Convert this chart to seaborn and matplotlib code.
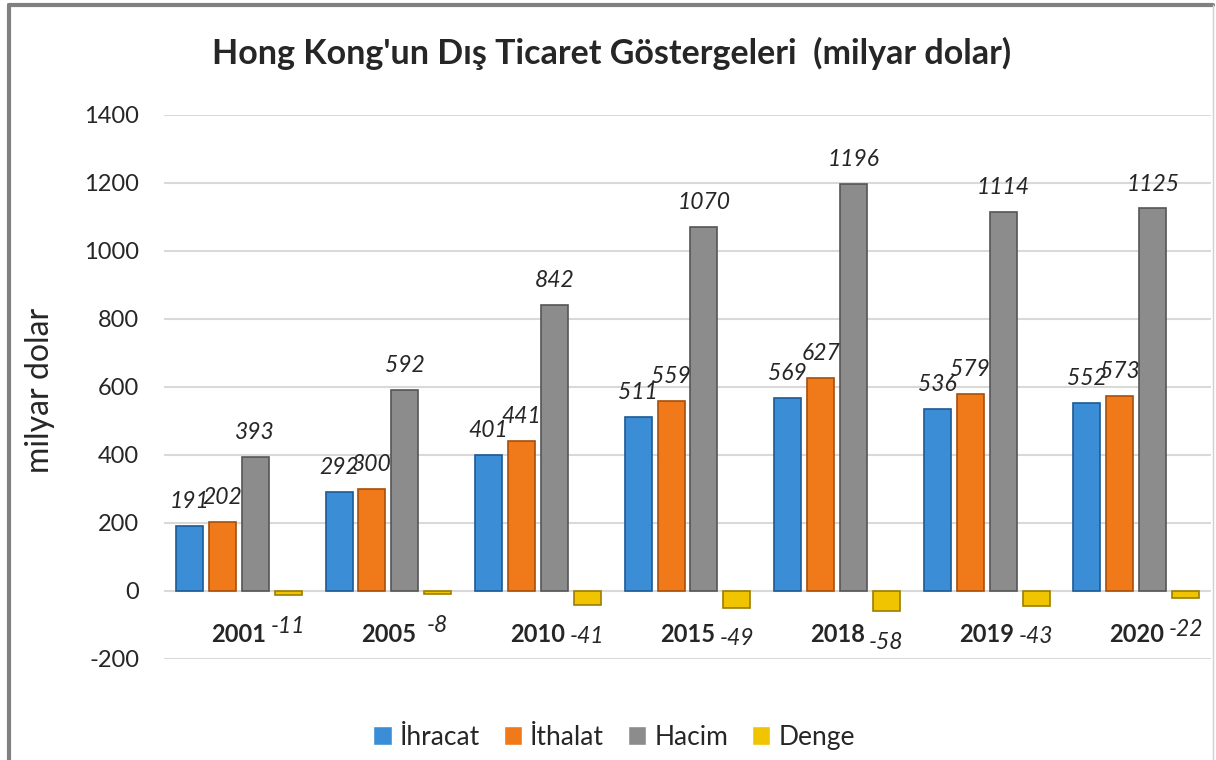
import pandas as pd
import matplotlib
matplotlib.use('Agg')
import matplotlib.pyplot as plt
import seaborn as sns

# values (milyar dolar)
years = ['2001', '2005', '2010', '2015', '2018', '2019', '2020']
ihracat = [191, 292, 401, 511, 569, 536, 552]
ithalat = [202, 300, 441, 559, 627, 579, 573]
hacim = [393, 592, 842, 1070, 1196, 1114, 1125]
denge = [-11, -8, -41, -49, -58, -43, -22]
series_names = ['İhracat', 'İthalat', 'Hacim', 'Denge']
y_ticks = [-200, 0, 200, 400, 600, 800, 1000, 1200, 1400]

palette = ['#3b8ed6', '#f07a1a', '#8c8c8c', '#f0c400']
edges = ['#1d5a94', '#a84e0a', '#555555', '#9c7e00']

df = pd.DataFrame({
    'year': years * 4,
    'series': [s for s in series_names for _ in years],
    'value': ihracat + ithalat + hacim + denge,
})

sns.set_theme(style='white')
plt.rcParams['font.family'] = ['Lato', 'DejaVu Sans']

fig = plt.figure(figsize=(12.16, 7.6), dpi=100)
ax = fig.add_axes([0.1349, 0.1329, 0.8610, 0.7158])

sns.barplot(data=df, x='year', y='value', hue='series', order=years,
            hue_order=series_names, palette=palette, width=0.88, gap=0.18,
            saturation=1, errorbar=None, ax=ax, zorder=3)

# darker outline on every bar, a bit like the bevel in the original
for cont, ec in zip(ax.containers, edges):
    for bar in cont:
        bar.set_edgecolor(ec)
        bar.set_linewidth(1.2)

# data labels
for i, cont in enumerate(ax.containers):
    if series_names[i] == 'Denge':
        labels = ax.bar_label(cont, padding=15, fontsize=16.5, fontstyle='italic')
    else:
        labels = ax.bar_label(cont, padding=10, fontsize=16.5, fontstyle='italic')
    for t in labels:
        t.set_zorder(4)

ax.set_xlim(-0.5, 6.5)
ax.set_ylim(-200, 1400)
ax.set_yticks(y_ticks)
ax.set_yticklabels([str(v) for v in y_ticks], fontsize=17)
ax.tick_params(axis='y', length=0, pad=18)
ax.yaxis.grid(True, color='#d9d9d9', linewidth=1.5, zorder=0)
ax.set_axisbelow(True)
for s in ax.spines.values():
    s.set_visible(False)

# year labels sit just under the zero line
ax.set_xticks(range(len(years)))
ax.set_xticklabels(years, fontsize=17, fontweight='bold')
ax.tick_params(axis='x', length=0, pad=-26)
ax.set_xlabel('')

ax.set_ylabel('milyar dolar', fontsize=23)
ax.yaxis.set_label_coords(-0.104, 0.494)

fig.text(0.503, 0.930, "Hong Kong'un Dış Ticaret Göstergeleri  (milyar dolar)",
         ha='center', va='center', fontsize=24.5, fontweight='bold')

handles, labels = ax.get_legend_handles_labels()
ax.get_legend().remove()
fig.legend(handles, labels, loc='center', bbox_to_anchor=(0.505, 0.030), ncol=4,
           frameon=False, fontsize=19, handlelength=0.7, handleheight=0.7,
           handletextpad=0.3, columnspacing=0.9)

# grey frame round the chart
fig.add_artist(plt.Line2D([9 / 1216, 9 / 1216], [-0.01, 755 / 760],
                          transform=fig.transFigure, color='#808080', linewidth=3))
fig.add_artist(plt.Line2D([9 / 1216, 1213 / 1216], [755 / 760, 755 / 760],
                          transform=fig.transFigure, color='#808080', linewidth=3))
fig.add_artist(plt.Line2D([1213 / 1216, 1213 / 1216], [-0.01, 755 / 760],
                          transform=fig.transFigure, color='#d0d0d0', linewidth=1))

fig.savefig('out.png', dpi=100)
